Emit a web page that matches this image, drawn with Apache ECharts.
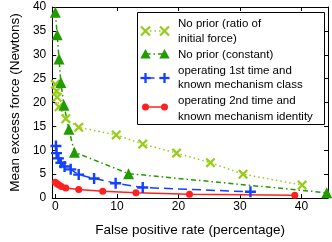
<!DOCTYPE html>
<html>
<head>
<meta charset="utf-8">
<script src="https://cdn.jsdelivr.net/npm/echarts@6/dist/echarts.min.js"></script>
<style>
  html, body { margin: 0; padding: 0; background: #fff; }
  #chart { width: 332px; height: 242px; }
</style>
</head>
<body>
<div id="chart"></div>
<script>
// values: [false positive rate %, mean excess force N]
const ratioPrior = [[0, 23.8], [0.2, 22.4], [0.3, 21.1], [0.6, 19.1], [1.7, 16.6], [3.8, 14.8], [9.9, 13.2], [14.2, 11.3], [19.7, 9.4], [25.2, 7.4], [30.5, 5.0], [40.1, 2.7]]
const constPrior = [[0, 38.9], [0.3, 34.2], [0.6, 29.1], [0.9, 24.2], [1.4, 19.4], [2.2, 14.4], [3.1, 9.6], [11.9, 5.1], [44.1, 1.1]]
const firstTime = [[0.1, 10.9], [0.2, 9.4], [0.5, 8.3], [0.9, 7.4], [1.5, 6.6], [2.5, 6.0], [3.8, 4.9], [6.3, 4.1], [9.8, 3.1], [14.2, 2.2], [31.7, 1.3]]
const secondTime = [[0, 3.3], [0.3, 3.0], [0.6, 2.7], [1.0, 2.4], [1.7, 2.1], [3.8, 1.8], [7.7, 1.4], [13.1, 1.1], [21.8, 0.8], [38.9, 0.6]]
const xTicks = [0, 10, 20, 30, 40]
const yTicks = [0, 5, 10, 15, 20, 25, 30, 35, 40]
const legendNames = [
  ['No prior (ratio of', 'initial force)'],
  ['No prior (constant)'],
  ['operating 1st time and', 'known mechanism class'],
  ['operating 2nd time and', 'known mechanism identity'],
]

const font = 'Liberation Sans, Helvetica, Arial, sans-serif'
const colors = ['#99cc1a', '#229a00', '#1440ff', '#ff2020']
const crossPath = 'path://M0,1.6L1.6,0L5,3.4L8.4,0L10,1.6L6.6,5L10,8.4L8.4,10L5,6.6L1.6,10L0,8.4L3.4,5Z'
const plusPath = 'path://M3.9,0H6.1V3.9H10V6.1H6.1V10H3.9V6.1H0V3.9H3.9Z'

let chart = echarts.init(document.getElementById('chart'))

const baseX = {
  type: 'value',
  min: -0.5,
  max: 44.3,
  splitLine: { show: false },
  axisLine: { show: true, onZero: false, lineStyle: { color: '#000', width: 1 } },
  axisTick: { inside: true, length: 4, customValues: xTicks, lineStyle: { color: '#000' } },
}
const baseY = {
  type: 'value',
  min: 0,
  max: 40,
  interval: 5,
  splitLine: { show: false },
  axisLine: { show: true, onZero: false, lineStyle: { color: '#000', width: 1 } },
  axisTick: { inside: true, length: 4, customValues: yTicks, lineStyle: { color: '#000' } },
}

// legend drawn by hand, gnuplot style (two markers per sample)
const lg = { x: 137, y: 12, w: 187, h: 112, m1: 145.5, m2: 164.5, tx: 178 }
const rows = [
  { y: 31, lines: [24, 38.5] },
  { y: 54, lines: [55] },
  { y: 78, lines: [70.5, 85] },
  { y: 107, lines: [101, 116.5] },
]
const dashes = [[1.5, 3], [5, 3, 1.5, 3], [9, 5], null]
function marker(i, cx, cy) {
  const c = colors[i]
  if (i === 0) {
    return [
      { type: 'line', shape: { x1: cx - 4.5, y1: cy - 4.5, x2: cx + 4.5, y2: cy + 4.5 }, style: { stroke: c, lineWidth: 2.3 } },
      { type: 'line', shape: { x1: cx - 4.5, y1: cy + 4.5, x2: cx + 4.5, y2: cy - 4.5 }, style: { stroke: c, lineWidth: 2.3 } },
    ]
  }
  if (i === 1) {
    return [{ type: 'polygon', shape: { points: [[cx, cy - 5], [cx + 5.2, cy + 4.5], [cx - 5.2, cy + 4.5]] }, style: { fill: c } }]
  }
  if (i === 2) {
    return [
      { type: 'line', shape: { x1: cx - 5, y1: cy, x2: cx + 5, y2: cy }, style: { stroke: c, lineWidth: 2.3 } },
      { type: 'line', shape: { x1: cx, y1: cy - 5, x2: cx, y2: cy + 5 }, style: { stroke: c, lineWidth: 2.3 } },
    ]
  }
  return [{ type: 'circle', shape: { cx: cx, cy: cy, r: 3.5 }, style: { fill: c } }]
}
let legendEls = [{
  type: 'rect',
  shape: { x: lg.x + 0.5, y: lg.y + 0.5, width: lg.w, height: lg.h },
  style: { fill: '#fff', stroke: '#000', lineWidth: 1 },
  z: 10,
}]
rows.forEach((r, i) => {
  legendEls.push({
    type: 'line',
    shape: { x1: lg.m1, y1: r.y, x2: lg.m2, y2: r.y },
    style: { stroke: colors[i], lineWidth: 1.5, lineDash: dashes[i] },
    z: 11,
  })
  marker(i, lg.m1, r.y).concat(marker(i, lg.m2, r.y)).forEach((el) => {
    el.z = 12
    legendEls.push(el)
  })
  legendNames[i].forEach((t, k) => {
    legendEls.push({
      type: 'text',
      x: lg.tx,
      y: r.lines[k],
      style: { text: t, fill: '#000', font: '11.5px ' + font, verticalAlign: 'middle', align: 'left' },
      z: 12,
    })
  })
})

let option = {
  animation: false,
  backgroundColor: '#fff',
  grid: { left: 43, right: 4, top: 7, bottom: 38.5 },
  xAxis: [
    Object.assign({}, baseX, {
      position: 'bottom',
      name: 'False positive rate (percentage)',
      nameLocation: 'middle',
      nameGap: 25,
      nameTextStyle: { fontFamily: font, fontSize: 13.5, color: '#000' },
      axisLabel: { customValues: xTicks, color: '#000', fontFamily: font, fontSize: 12, margin: 3 },
    }),
    Object.assign({}, baseX, { position: 'top', axisLabel: { show: false } }),
  ],
  yAxis: [
    Object.assign({}, baseY, {
      position: 'left',
      name: 'Mean excess force (Newtons)',
      nameLocation: 'middle',
      nameGap: 30,
      nameTextStyle: { fontFamily: font, fontSize: 13.5, color: '#000' },
      axisLabel: { customValues: yTicks, color: '#000', fontFamily: font, fontSize: 12, margin: 6 },
    }),
    Object.assign({}, baseY, { position: 'right', axisLabel: { show: false } }),
  ],
  series: [
    {
      name: legendNames[0].join(' '),
      type: 'line',
      data: ratioPrior,
      symbol: crossPath,
      symbolSize: 10,
      lineStyle: { color: colors[0], width: 1.5, type: dashes[0] },
      itemStyle: { color: colors[0] },
    },
    {
      name: legendNames[1].join(' '),
      type: 'line',
      data: constPrior,
      symbol: 'triangle',
      symbolSize: 11,
      lineStyle: { color: colors[1], width: 1.5, type: dashes[1] },
      itemStyle: { color: colors[1] },
    },
    {
      name: legendNames[2].join(' '),
      type: 'line',
      data: firstTime,
      symbol: plusPath,
      symbolSize: 11,
      lineStyle: { color: colors[2], width: 1.5, type: dashes[2] },
      itemStyle: { color: colors[2] },
    },
    {
      name: legendNames[3].join(' '),
      type: 'line',
      data: secondTime,
      symbol: 'circle',
      symbolSize: 7,
      lineStyle: { color: colors[3], width: 1.5 },
      itemStyle: { color: colors[3] },
    },
  ],
  graphic: legendEls,
}
chart.setOption(option, true)
</script>
</body>
</html>
